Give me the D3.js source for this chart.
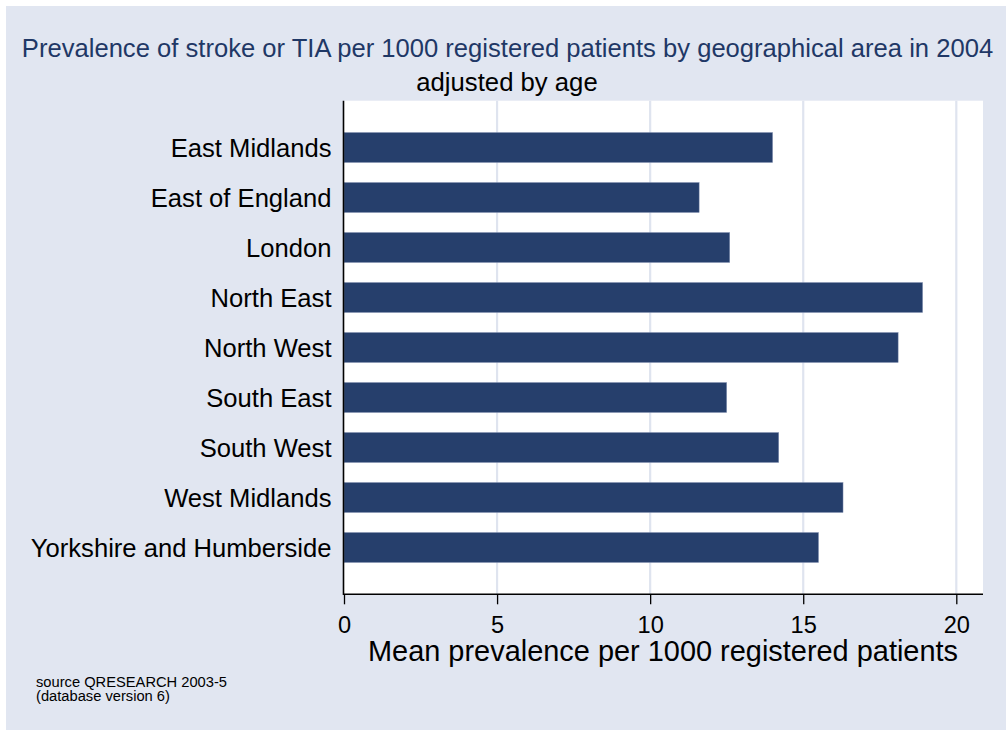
<!DOCTYPE html>
<html>
<head>
<meta charset="utf-8">
<script src="https://cdn.jsdelivr.net/npm/d3@7"></script>
<style>
  html, body { margin: 0; padding: 0; background: #ffffff; }
  svg { display: block; font-family: "Liberation Sans", Arial, Helvetica, sans-serif; }
</style>
</head>
<body>
<svg id="chart" width="1006" height="731"></svg>
<script>
const categories = ["East Midlands", "East of England", "London", "North East", "North West",
                    "South East", "South West", "West Midlands", "Yorkshire and Humberside"];
const values = [14.0, 11.6, 12.6, 18.9, 18.1, 12.5, 14.2, 16.3, 15.5];
const xTicks = [0, 5, 10, 15, 20];
const titleText = "Prevalence of stroke or TIA per 1000 registered patients by geographical area in 2004";
const subtitleText = "adjusted by age";
const xAxisTitle = "Mean prevalence per 1000 registered patients";
const noteLines = ["source QRESEARCH 2003-5", "(database version 6)"];

const svg = d3.select("#chart");
const W = 1006, H = 731;
const plot = { left: 343.5, right: 983, top: 100.7, bottom: 594.3 };

// outer graph region
svg.append("rect").attr("x", 6).attr("y", 6).attr("width", W - 6).attr("height", 724)
  .attr("fill", "#e1e6f1");

// plot region
svg.append("rect").attr("x", plot.left).attr("y", plot.top)
  .attr("width", plot.right - plot.left).attr("height", plot.bottom - plot.top)
  .attr("fill", "#ffffff");

const x = d3.scaleLinear().domain([0, 20]).range([344, 956.3]);
const y = d3.scaleBand().domain(categories).range([plot.top, plot.bottom])
  .paddingInner(0.4).paddingOuter(0.636);

// gridlines
svg.append("g").selectAll("line").data(xTicks.filter(d => d > 0)).join("line")
  .attr("x1", d => x(d)).attr("x2", d => x(d))
  .attr("y1", plot.top).attr("y2", plot.bottom)
  .attr("stroke", "#dfe4ef").attr("stroke-width", 2.2);

// bars
svg.append("g").selectAll("rect").data(categories).join("rect")
  .attr("x", x(0))
  .attr("y", d => y(d))
  .attr("width", (d, i) => x(values[i]) - x(0))
  .attr("height", y.bandwidth())
  .attr("fill", "#263f6c")
  .attr("stroke", "#8593b3").attr("stroke-width", 0.5);

// x axis
const xAxis = d3.axisBottom(x).tickValues(xTicks).tickSize(10).tickPadding(3).tickFormat(d3.format("d"));
const gx = svg.append("g").attr("transform", `translate(0,${plot.bottom})`).call(xAxis);
gx.select(".domain").remove();
gx.selectAll(".tick line").attr("stroke", "#000").attr("stroke-width", 1.3);
gx.selectAll(".tick text").attr("fill", "#000").attr("font-size", 23.6)
  .attr("font-family", "'Liberation Sans', Arial, sans-serif")
  .attr("dy", null).attr("y", 38.4);
svg.append("line").attr("x1", plot.left - 0.5).attr("x2", plot.right)
  .attr("y1", plot.bottom).attr("y2", plot.bottom)
  .attr("stroke", "#000").attr("stroke-width", 1.6);

// y axis
const yAxis = d3.axisLeft(y).tickSize(0).tickPadding(12);
const gy = svg.append("g").attr("transform", `translate(${plot.left},0)`).call(yAxis);
gy.select(".domain").remove();
gy.selectAll(".tick text").attr("fill", "#000").attr("font-size", 25.6)
  .attr("font-family", "'Liberation Sans', Arial, sans-serif")
  .attr("dy", "0.36em");
svg.append("line").attr("x1", plot.left).attr("x2", plot.left)
  .attr("y1", plot.top).attr("y2", plot.bottom + 0.8)
  .attr("stroke", "#000").attr("stroke-width", 1.6);

// titles
svg.append("text").attr("x", 507.5).attr("y", 57.3).attr("text-anchor", "middle")
  .attr("font-size", 25.6).attr("fill", "#1f3866").text(titleText);
svg.append("text").attr("x", 507).attr("y", 90.7).attr("text-anchor", "middle")
  .attr("font-size", 25.7).attr("fill", "#000").text(subtitleText);

// x axis title
svg.append("text").attr("x", (368 + 958) / 2).attr("y", 660.7).attr("text-anchor", "middle")
  .attr("font-size", 29).attr("fill", "#000")
  .attr("textLength", 590).attr("lengthAdjust", "spacingAndGlyphs")
  .text(xAxisTitle);

// note
svg.append("g").selectAll("text").data(noteLines).join("text")
  .attr("x", 36).attr("y", (d, i) => 687.3 + i * 13.7)
  .attr("font-size", 14.7).attr("fill", "#000").text(d => d);
</script>
</body>
</html>
